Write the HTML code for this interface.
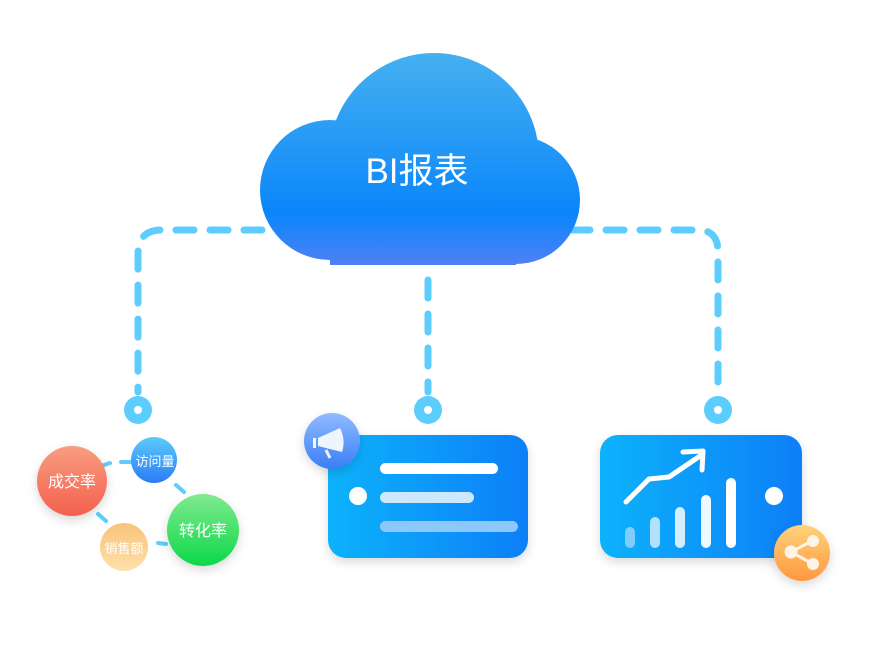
<!DOCTYPE html>
<html><head><meta charset="utf-8"><style>html,body{margin:0;padding:0;background:#fff}svg{display:block}text{font-family:"Liberation Sans","Noto Sans CJK SC",sans-serif}</style></head>
<body>
<svg width="870" height="660" viewBox="0 0 870 660" xmlns="http://www.w3.org/2000/svg">
<defs>
<linearGradient id="cl" gradientUnits="userSpaceOnUse" x1="0" y1="55" x2="0" y2="265"><stop offset="0" stop-color="#45b0f0"/><stop offset="0.75" stop-color="#0a86fa"/><stop offset="1" stop-color="#4f80f6"/></linearGradient>
<linearGradient id="cd" x1="0" y1="0" x2="1" y2="0"><stop offset="0" stop-color="#0ab2fb"/><stop offset="1" stop-color="#0a7ff8"/></linearGradient>
<linearGradient id="mg" x1="0" y1="0" x2="0" y2="1"><stop offset="0" stop-color="#8fbaff"/><stop offset="1" stop-color="#3a7ef5"/></linearGradient>
<linearGradient id="sh" x1="0" y1="0" x2="0" y2="1"><stop offset="0" stop-color="#ffd27c"/><stop offset="1" stop-color="#ff983e"/></linearGradient>
<linearGradient id="rd" x1="0" y1="0" x2="0" y2="1"><stop offset="0" stop-color="#f89c80"/><stop offset="1" stop-color="#f4604e"/></linearGradient>
<linearGradient id="bl" x1="0" y1="0" x2="0" y2="1"><stop offset="0" stop-color="#5ccbfb"/><stop offset="1" stop-color="#2a7cf6"/></linearGradient>
<linearGradient id="gr" x1="0" y1="0" x2="0" y2="1"><stop offset="0" stop-color="#80ea90"/><stop offset="1" stop-color="#0cd848"/></linearGradient>
<linearGradient id="or" x1="0" y1="0" x2="0" y2="1"><stop offset="0" stop-color="#f8c47a"/><stop offset="1" stop-color="#fde0aa"/></linearGradient>
<filter id="ds" x="-20%" y="-20%" width="140%" height="150%"><feDropShadow dx="0" dy="4" stdDeviation="5" flood-color="#000" flood-opacity="0.15"/></filter>
</defs>
<g fill="none" stroke="#5ccdfc" stroke-width="7" stroke-linecap="round" stroke-dasharray="18 16">
<path d="M262 230 H162 Q138 230 138 254 V392"/>
<path d="M428 280 V392"/>
<path d="M572 230 H698 Q718 230 718 252 V388"/>
</g>
<g fill="#5ccdfc"><circle cx="138" cy="410" r="14"/><circle cx="428" cy="410" r="14"/><circle cx="718" cy="410" r="14"/></g>
<g fill="#fff"><circle cx="138" cy="410" r="4"/><circle cx="428" cy="410" r="4"/><circle cx="718" cy="410" r="4"/></g>
<g fill="url(#cl)">
<circle cx="330" cy="190" r="70"/>
<circle cx="434" cy="158" r="105"/>
<circle cx="516" cy="200" r="64"/>
<rect x="330" y="200" width="186" height="65"/>
</g>
<text x="417" y="183" font-size="35" fill="#fff" text-anchor="middle">BI报表</text>
<rect x="328" y="435" width="200" height="123" rx="18" fill="url(#cd)" filter="url(#ds)"/>
<circle cx="358" cy="496" r="9" fill="#fff"/>
<rect x="380" y="463" width="118" height="11" rx="5.5" fill="#fff"/>
<rect x="380" y="492" width="94" height="11" rx="5.5" fill="#cbe8fd"/>
<rect x="380" y="521" width="138" height="11" rx="5.5" fill="#8cc8fb"/>
<circle cx="332" cy="441" r="28" fill="url(#mg)" filter="url(#ds)"/>
<path d="M318 438 L340 428 Q346 440 342 452 L318 446 Z" fill="#eef5ff"/>
<rect x="313" y="438" width="3" height="10" fill="#eef5ff"/>
<path d="M326 450 l4 8" stroke="#eef5ff" stroke-width="3"/>
<rect x="600" y="435" width="202" height="123" rx="18" fill="url(#cd)" filter="url(#ds)"/>
<circle cx="774" cy="496" r="9" fill="#fff"/>
<polyline points="626,502 649,479 669,477 700,456" fill="none" stroke="#fff" stroke-width="5" stroke-linecap="round" stroke-linejoin="round"/>
<polyline points="683,452 703,451 702,470" fill="none" stroke="#fff" stroke-width="5" stroke-linecap="round" stroke-linejoin="round"/>
<g stroke-linecap="round" stroke-width="10">
<line x1="630" y1="532" x2="630" y2="543" stroke="#7fcdfb"/>
<line x1="655" y1="522" x2="655" y2="543" stroke="#b3e0fd"/>
<line x1="680" y1="512" x2="680" y2="543" stroke="#d5eefe"/>
<line x1="706" y1="500" x2="706" y2="543" stroke="#eef8ff"/>
<line x1="731" y1="483" x2="731" y2="543" stroke="#fff"/>
</g>
<circle cx="802" cy="553" r="28" fill="url(#sh)" filter="url(#ds)"/>
<g fill="#fdf3e6" stroke="#fdf3e6" stroke-width="3"><line x1="791" y1="552" x2="812" y2="541"/><line x1="791" y1="552" x2="813" y2="564"/><circle cx="791" cy="552" r="5"/><circle cx="813" cy="541" r="4.5"/><circle cx="813" cy="564" r="4.5"/></g>
<g stroke="#5ccdfc" stroke-width="4" stroke-linecap="round">
<line x1="104" y1="465" x2="110" y2="463"/><line x1="121" y1="462" x2="130" y2="462"/>
<line x1="176" y1="485" x2="184" y2="492"/>
<line x1="98" y1="514" x2="106" y2="521"/>
<line x1="158" y1="543" x2="166" y2="544"/>
</g>
<circle cx="72" cy="481" r="35" fill="url(#rd)" filter="url(#ds)"/>
<circle cx="154" cy="460" r="23" fill="url(#bl)"/>
<circle cx="203" cy="530" r="36" fill="url(#gr)" filter="url(#ds)"/>
<circle cx="124" cy="547" r="24" fill="url(#or)"/>
<g fill="#fff" text-anchor="middle">
<text x="72" y="487" font-size="16">成交率</text>
<text x="155" y="466" font-size="13">访问量</text>
<text x="203" y="536" font-size="16">转化率</text>
<text x="124" y="553" font-size="13">销售额</text>
</g>
</svg>
</body></html>
